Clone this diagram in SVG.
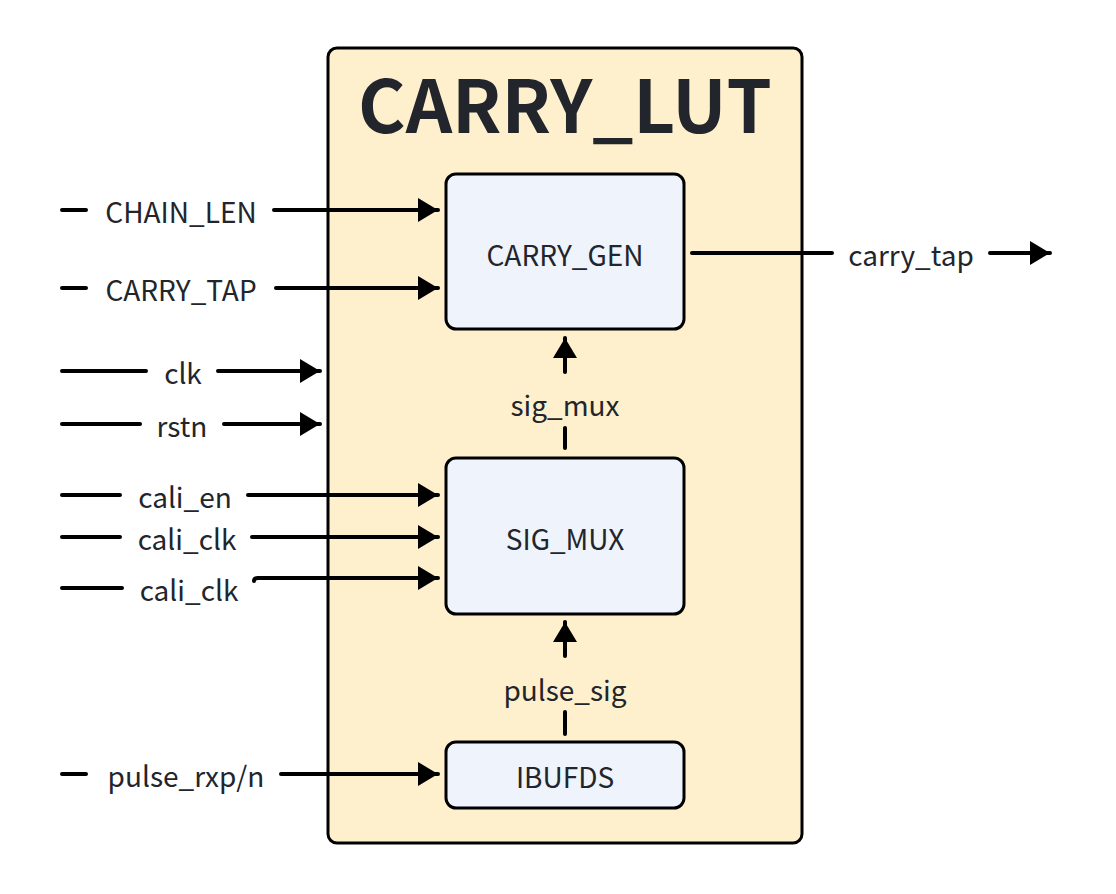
<svg xmlns="http://www.w3.org/2000/svg" width="1116" height="894" viewBox="0 0 1116 894">
<defs>
<marker id="ah" viewBox="0 0 20 24" refX="20" refY="12" markerWidth="20" markerHeight="24" markerUnits="userSpaceOnUse" orient="auto">
<path d="M0,0 L20,12 L0,24 Z" fill="#000"/>
</marker>
<style>
.lbl{font-family:"Noto Sans CJK SC","Noto Sans",sans-serif;font-size:28px;fill:#22252b;text-anchor:middle;dominant-baseline:central}
.box{fill:#eef3fc;stroke:#000;stroke-width:3}
.w{stroke:#000;stroke-width:4;fill:none;stroke-linecap:round}
</style>
</defs>
<rect width="1116" height="894" fill="#fff"/>
<g id="CARRY_LUT">
<rect x="328" y="48" width="474" height="795" rx="9" fill="#fef0cd" stroke="#000" stroke-width="3"/>
<text x="565" y="101" class="lbl" style="font-size:72.5px;font-weight:bold">CARRY_LUT</text>
</g>
<g id="CARRY_GEN">
<rect class="box" x="446" y="174" width="238" height="155" rx="10"/>
<text class="lbl" x="565" y="254">CARRY_GEN</text>
</g>
<g id="SIG_MUX">
<rect class="box" x="446" y="458" width="238" height="156" rx="10"/>
<text class="lbl" x="565" y="538">SIG_MUX</text>
</g>
<g id="IBUFDS">
<rect class="box" x="446" y="742" width="238" height="66" rx="10"/>
<text class="lbl" x="565" y="776">IBUFDS</text>
</g>
<g id="connectors">
<line class="w" x1="62" y1="210" x2="86" y2="210"/>
<line class="w" x1="274" y1="210" x2="438" y2="210" marker-end="url(#ah)"/>
<text class="lbl" x="181" y="211">CHAIN_LEN</text>
<line class="w" x1="62" y1="288" x2="86" y2="288"/>
<line class="w" x1="276" y1="288" x2="438" y2="288" marker-end="url(#ah)"/>
<text class="lbl" x="181" y="289">CARRY_TAP</text>
<line class="w" x1="62" y1="371" x2="146" y2="371"/>
<line class="w" x1="218" y1="371" x2="320" y2="371" marker-end="url(#ah)"/>
<text class="lbl" x="183" y="372">clk</text>
<line class="w" x1="62" y1="424" x2="140" y2="424"/>
<line class="w" x1="224" y1="424" x2="320" y2="424" marker-end="url(#ah)"/>
<text class="lbl" x="182" y="425">rstn</text>
<line class="w" x1="62" y1="495" x2="120" y2="495"/>
<line class="w" x1="248" y1="495" x2="438" y2="495" marker-end="url(#ah)"/>
<text class="lbl" x="185" y="496">cali_en</text>
<line class="w" x1="62" y1="537" x2="120" y2="537"/>
<line class="w" x1="252" y1="537" x2="438" y2="537" marker-end="url(#ah)"/>
<text class="lbl" x="187" y="538">cali_clk</text>
<line class="w" x1="62" y1="588" x2="122" y2="588"/>
<path class="w" d="M254,581 Q254,578 258,578 L438,578" marker-end="url(#ah)"/>
<text class="lbl" x="189" y="589">cali_clk</text>
<line class="w" x1="62" y1="774" x2="86" y2="774"/>
<line class="w" x1="281" y1="774" x2="438" y2="774" marker-end="url(#ah)"/>
<text class="lbl" x="186" y="775">pulse_rxp/n</text>
<line class="w" x1="692" y1="253" x2="832" y2="253"/>
<line class="w" x1="990" y1="253" x2="1050" y2="253" marker-end="url(#ah)"/>
<text class="lbl" x="911" y="254">carry_tap</text>
<line class="w" x1="565" y1="448" x2="565" y2="428"/>
<line class="w" x1="565" y1="372" x2="565" y2="338" marker-end="url(#ah)"/>
<text class="lbl" x="565" y="404">sig_mux</text>
<line class="w" x1="565" y1="734" x2="565" y2="712"/>
<line class="w" x1="565" y1="656" x2="565" y2="622" marker-end="url(#ah)"/>
<text class="lbl" x="565" y="689">pulse_sig</text>
</g>
</svg>
